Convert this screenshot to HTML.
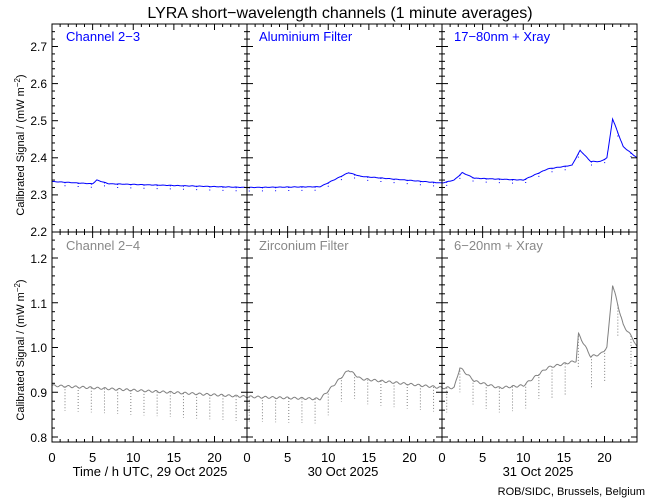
<!DOCTYPE html>
<html><head><meta charset="utf-8"><style>
body{margin:0;background:#fff}
svg{display:block;font-family:"Liberation Sans","DejaVu Sans",sans-serif}
</style></head><body>
<svg id="s" width="650" height="500" xmlns="http://www.w3.org/2000/svg">
<rect width="650" height="500" fill="#fff"/>
<text x="340" y="18" font-size="16" text-anchor="middle">LYRA short−wavelength channels (1 minute averages)</text>
<g id="plots"></g>
<g id="axes" stroke="#000" stroke-width="1" fill="none"></g>
<text x="66" y="41" font-size="13" fill="#0000ff">Channel 2−3</text>
<text x="259" y="41" font-size="13" fill="#0000ff">Aluminium Filter</text>
<text x="454" y="41" font-size="13" fill="#0000ff">17−80nm + Xray</text>
<text x="66" y="250" font-size="13" fill="#888">Channel 2−4</text>
<text x="259" y="250" font-size="13" fill="#888">Zirconium Filter</text>
<text x="454" y="250" font-size="13" fill="#888">6−20nm + Xray</text>
<g font-size="12" text-anchor="end">
<text x="47" y="51">2.7</text><text x="47" y="88">2.6</text><text x="47" y="125">2.5</text><text x="47" y="162">2.4</text><text x="47" y="199">2.3</text><text x="47" y="236">2.2</text>
<text x="47" y="263">1.2</text><text x="47" y="308">1.1</text><text x="47" y="352">1.0</text><text x="47" y="397">0.9</text><text x="47" y="442">0.8</text>
</g>
<text transform="translate(24,145) rotate(-90)" font-size="11" text-anchor="middle">Calibrated Signal / (mW m<tspan dy="-4" font-size="8">−2</tspan><tspan dy="4">)</tspan></text>
<text transform="translate(24,350) rotate(-90)" font-size="11" text-anchor="middle">Calibrated Signal / (mW m<tspan dy="-4" font-size="8">−2</tspan><tspan dy="4">)</tspan></text>
<g id="xl" font-size="13" text-anchor="middle"></g>
<text x="150" y="476" font-size="13" text-anchor="middle">Time / h UTC, 29 Oct 2025</text>
<text x="343" y="476" font-size="13" text-anchor="middle">30 Oct 2025</text>
<text x="538" y="476" font-size="13" text-anchor="middle">31 Oct 2025</text>
<text x="645" y="495" font-size="11" text-anchor="end">ROB/SIDC, Brussels, Belgium</text>
</svg>
<script>
var L=52,R=637,pw=(R-L)/3,hx=pw/24;
function X(t){return L+t*hx;}
function Yt(v){return 232-(v-2.2)*371;}
function Yb(v){return 437-(v-0.8)*447.5;}
var ax=document.getElementById('axes'),pl=document.getElementById('plots'),xl=document.getElementById('xl');
var h='';
h+='<rect x="52" y="24" width="585" height="418"/><line x1="52" y1="232" x2="637" y2="232"/>';
h+='<line x1="'+X(24)+'" y1="24" x2="'+X(24)+'" y2="442"/><line x1="'+X(48)+'" y1="24" x2="'+X(48)+'" y2="442"/>';
for(var p=0;p<3;p++){for(var k=0;k<=24;k++){var x=X(p*24+k),l=(k%5==0)?6:3;
 h+='<line x1="'+x+'" y1="24" x2="'+x+'" y2="'+(24+l)+'"/><line x1="'+x+'" y1="'+(232-l)+'" x2="'+x+'" y2="'+(232+l)+'"/><line x1="'+x+'" y1="442" x2="'+x+'" y2="'+(442-l)+'"/>';
 if(k%5==0&&k<=20)xl.innerHTML+='<text x="'+x+'" y="462">'+k+'</text>';}}
var xs=[52,X(24),X(48),637];
for(var v=2.2;v<=2.76;v+=0.02){var y=Yt(v),l=(Math.round(v*100)%10==0)?6:3;
 xs.forEach(function(x,i){h+='<line x1="'+(i==0?x:x-l)+'" y1="'+y+'" x2="'+(i==3?x:x+l)+'" y2="'+y+'"/>';});}
for(var v=0.8;v<=1.255;v+=0.02){var y=Yb(v),l=(Math.round(v*100)%10==0)?6:3;
 xs.forEach(function(x,i){h+='<line x1="'+(i==0?x:x-l)+'" y1="'+y+'" x2="'+(i==3?x:x+l)+'" y2="'+y+'"/>';});}
ax.innerHTML=h;
function interp(k,t){for(var i=1;i<k.length;i++)if(t<=k[i][0]){var a=k[i-1],b=k[i];return a[1]+(b[1]-a[1])*(t-a[0])/(b[0]-a[0]);}return k[k.length-1][1];}
var kt=[[0,2.336],[5,2.33],[5.5,2.34],[7,2.33],[24,2.32],[33,2.322],[36.5,2.36],[38,2.35],[48,2.332],[49.5,2.34],[50.5,2.36],[52,2.345],[58,2.34],[61,2.37],[64,2.38],[65,2.42],[66.3,2.39],[67.5,2.39],[68.3,2.4],[69,2.505],[70.3,2.43],[72,2.4]];
var kb=[[0,0.915],[24,0.89],[33,0.885],[36.5,0.95],[38,0.93],[48,0.91],[49.5,0.91],[50.2,0.955],[52,0.925],[55,0.91],[58,0.915],[61,0.955],[64.5,0.97],[64.8,1.03],[66.3,0.98],[67.5,0.985],[68.3,1.0],[69,1.14],[70.3,1.05],[71.5,1.02],[72,1.0]];
function series(k,Y,col,dip){var d='M'+X(0)+' '+Y(interp(k,0));for(var t=0.05;t<=72;t+=0.05){var v=interp(k,t);v+=Math.sin(t*7)*dip*0.04;d+='L'+X(t).toFixed(1)+' '+Y(v).toFixed(1);}
 var s='<path d="'+d+'" fill="none" stroke="'+col+'" stroke-width="1"/>';
 for(var t=1.6;t<72;t+=1.62){var v=interp(k,t),dd=dip*(t>60?1.3:1);s+='<line x1="'+X(t)+'" y1="'+Y(v)+'" x2="'+X(t)+'" y2="'+Y(v-dd)+'" stroke="'+col+'" stroke-dasharray="1,2"/>';}
 return s;}
pl.innerHTML=series(kt,Yt,'#0000ff',0.012)+series(kb,Yb,'#808080',0.055);
</script>
</body></html>
